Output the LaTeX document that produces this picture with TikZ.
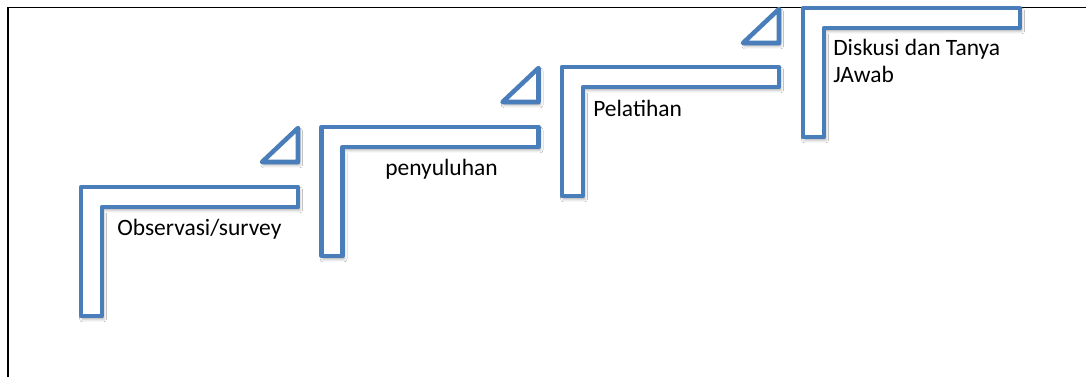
\documentclass[tikz,border=0pt]{standalone}
\usepackage{fontspec}
\setmainfont{Carlito}
\usetikzlibrary{shadows.blur}
\definecolor{stepblue}{HTML}{4A7EBB}
\tikzset{
  stairstep/.style={draw=stepblue, fill=white, line width=3.4pt, line join=round,
    blur shadow={shadow xshift=1.2pt, shadow yshift=-2.2pt, shadow blur radius=2.2pt, shadow opacity=35}},
  steplabel/.style={inner sep=0pt, font=\fontsize{17.6pt}{20.25pt}\selectfont, align=left},
  frameline/.style={draw=black, line width=1.4pt}
}
\begin{document}
\begin{tikzpicture}[x=0.75pt, y=-0.75pt]
  \useasboundingbox (0,0) rectangle (1086,376);
  \fill[white] (0,0) rectangle (1086,376);
  % open frame: left and top edges only
  \draw[frameline] (8,377) -- (8,7.5) -- (1087,7.5);

  % L-shaped steps: left x, top y
  \foreach \L/\T in {81/187, 321.5/127, 562/67, 803/8}{
    \path[stairstep] (\L,\T) -- ({\L+217},\T) -- ({\L+217},{\T+20})
      -- ({\L+21},{\T+20}) -- ({\L+21},{\T+129}) -- (\L,{\T+129}) -- cycle;
  }
  % small triangles leading up to each next step
  \foreach \R/\T in {298/127, 538.5/67, 779/8}{
    \path[stairstep] (\R,{\T+1}) -- (\R,{\T+35}) -- ({\R-36},{\T+35}) -- cycle;
  }

  \node[steplabel, anchor=base west] (obs) at (117,235) {Observasi/survey};
  \node[steplabel, anchor=base west] (peny) at (385,175) {penyuluhan};
  \node[steplabel, anchor=base west] (pel) at (593,116) {Pelatihan};
  % the base anchor of a two-line node sits on its last line
  \node[steplabel, anchor=base west] (disk) at (833,82) {Diskusi dan Tanya\\JAwab};
\end{tikzpicture}
\end{document}
